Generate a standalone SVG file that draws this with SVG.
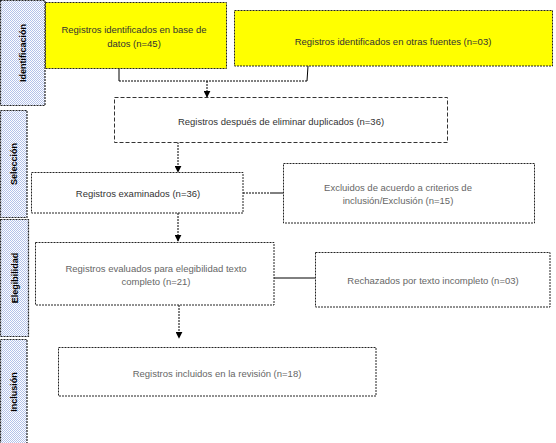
<svg xmlns="http://www.w3.org/2000/svg" width="556" height="443" viewBox="0 0 556 443">
<defs>
<pattern id="chk" width="2" height="2" patternUnits="userSpaceOnUse">
<rect width="2" height="2" fill="#ffffff"/>
<rect width="1" height="1" fill="#b4c2ea"/>
<rect x="1" y="1" width="1" height="1" fill="#b4c2ea"/>
</pattern>
<marker id="ah" viewBox="0 0 10 10" refX="9" refY="5" markerWidth="7" markerHeight="7" orient="auto" markerUnits="userSpaceOnUse">
<path d="M0,0 L10,5 L0,10 z" fill="#000"/>
</marker>
<style>
.side{fill:url(#chk);stroke:#222;stroke-width:1.2;stroke-dasharray:2 1}
.sl{font-family:"Liberation Sans",Arial,sans-serif;font-size:9px;font-weight:bold;fill:#000}
.yb{fill:#ffff00;stroke:#222;stroke-width:1;stroke-dasharray:2 1}
.wb{fill:#ffffff;stroke:#222;stroke-width:1;stroke-dasharray:2 1}
.db{fill:#ffffff;stroke:#333;stroke-width:1;stroke-dasharray:4 2}
.t{font-family:"Liberation Sans",Arial,sans-serif;font-size:9.5px;fill:#333;text-anchor:middle}
.tf{font-family:"Liberation Sans",Arial,sans-serif;font-size:9.5px;fill:#666;text-anchor:middle}
.c{fill:none;stroke:#000;stroke-width:1}
.cd{fill:none;stroke:#000;stroke-width:1;stroke-dasharray:2 1}
</style>
</defs>
<g id="side-identificacion"><rect class="side" x="0.5" y="0.5" width="44.5" height="105"/><text class="sl" transform="translate(26,53) rotate(-90)" text-anchor="middle">Identificación</text></g>
<g id="side-seleccion"><rect class="side" x="0.5" y="110.5" width="26.5" height="107"/><text class="sl" transform="translate(17,164) rotate(-90)" text-anchor="middle">Selección</text></g>
<g id="side-elegibilidad"><rect class="side" x="0.5" y="219.5" width="28" height="117"/><text class="sl" transform="translate(18,278) rotate(-90)" text-anchor="middle">Elegibilidad</text></g>
<g id="side-inclusion"><rect class="side" x="0.5" y="339.5" width="26.5" height="104"/><text class="sl" transform="translate(17,392) rotate(-90)" text-anchor="middle">Inclusión</text></g>

<g id="connectors">
<path class="c" d="M119,68 V81"/>
<path class="cd" d="M119,81 H307"/>
<path class="c" d="M307,81 L308,66"/>
<path class="cd" d="M207,81 V97" marker-end="url(#ah)"/>
<path class="cd" d="M178,142 V172" marker-end="url(#ah)"/>
<path class="cd" d="M243,193 H270"/>
<path class="c" d="M270,193 H283"/>
<path class="cd" d="M178,213 V241" marker-end="url(#ah)"/>
<path class="c" d="M274,278 H315"/>
<path class="cd" d="M179,305 V338" marker-end="url(#ah)"/>
</g>

<g id="n1"><rect class="yb" x="45.5" y="2.5" width="181" height="66"/><text class="t" x="134" y="33">Registros identificados en base de</text><text class="t" x="134" y="47">datos (n=45)</text></g>
<g id="n2"><rect class="yb" x="234.5" y="10.5" width="318" height="55.5"/><text class="t" x="393" y="45">Registros identificados en otras fuentes (n=03)</text></g>
<g id="n3"><rect class="db" x="114.5" y="97.5" width="333" height="45"/><text class="t" x="281" y="125">Registros después de eliminar duplicados (n=36)</text></g>
<g id="n4"><rect class="wb" x="31.5" y="172.5" width="211.5" height="40.5"/><text class="t" x="138" y="197">Registros examinados (n=36)</text></g>
<g id="n5"><rect class="wb" x="283.5" y="163.5" width="251" height="59.5"/><text class="tf" x="398" y="191">Excluidos de acuerdo a criterios de</text><text class="tf" x="398" y="204">inclusión/Exclusión (n=15)</text></g>
<g id="n6"><rect class="wb" x="35.5" y="242.5" width="238.5" height="62.5"/><text class="tf" x="156" y="272">Registros evaluados para elegibilidad texto</text><text class="tf" x="156" y="285">completo (n=21)</text></g>
<g id="n7"><rect class="wb" x="315.5" y="252.5" width="234.5" height="54.5"/><text class="tf" x="433" y="284">Rechazados por texto incompleto (n=03)</text></g>
<g id="n8"><rect class="wb" x="58.5" y="347.5" width="317.5" height="48.5"/><text class="tf" x="217" y="377">Registros incluidos en la revisión (n=18)</text></g>
</svg>
